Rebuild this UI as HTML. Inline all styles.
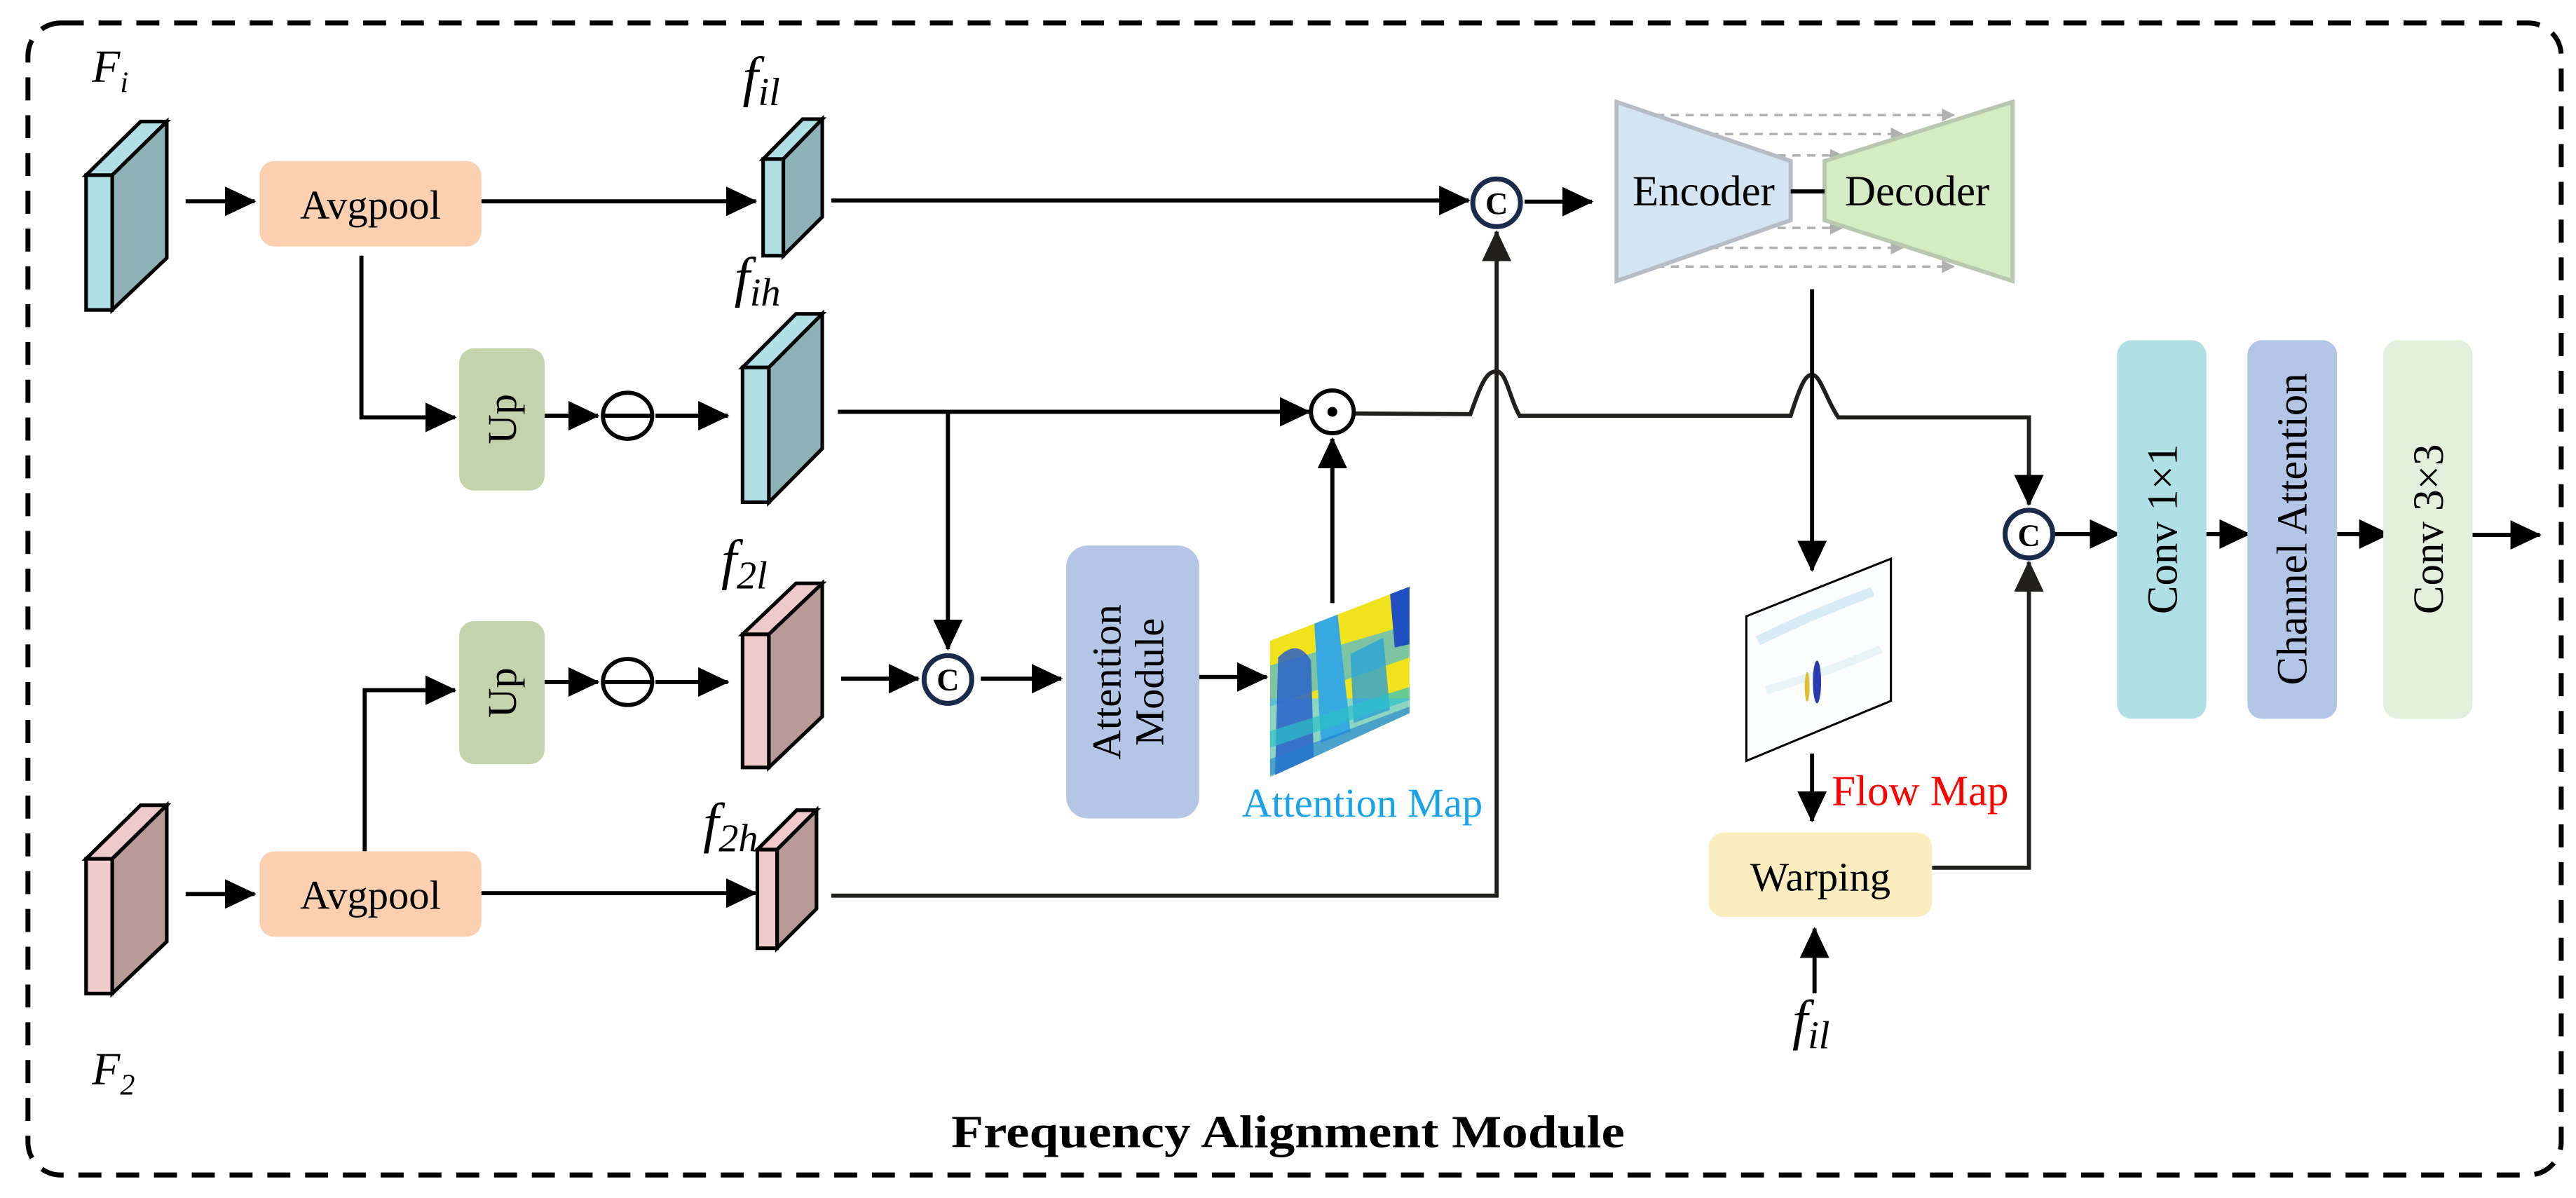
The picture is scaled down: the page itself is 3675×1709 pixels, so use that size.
<!DOCTYPE html>
<html><head><meta charset="utf-8"><style>
html,body{margin:0;padding:0;background:#fff;}
svg{display:block;font-family:"Liberation Serif","Times New Roman",serif;}
</style></head><body>
<svg width="3675" height="1709" viewBox="0 0 1568 729" preserveAspectRatio="none" xmlns="http://www.w3.org/2000/svg" font-family="'Liberation Serif', serif">
<defs>
<marker id="ah" viewBox="0 0 19 18" refX="18" refY="9" markerWidth="19" markerHeight="18" markerUnits="userSpaceOnUse" orient="auto">
<path d="M0,0 L19,9 L0,18 z" fill="#000"/></marker>
<marker id="ahd" viewBox="0 0 19 18" refX="18" refY="9" markerWidth="19" markerHeight="18" markerUnits="userSpaceOnUse" orient="auto">
<path d="M0,0 L19,9 L0,18 z" fill="#22201c"/></marker>
<marker id="ga" viewBox="0 0 8 8" refX="7" refY="4" markerWidth="8" markerHeight="8" markerUnits="userSpaceOnUse" orient="auto">
<path d="M0,0 L8,4 L0,8 z" fill="#b0b0b0"/></marker>
<clipPath id="amc"><polygon points="773,390 858,357 858,434 773,473"/></clipPath>
<clipPath id="fmc"><polygon points="1063,375 1151,340 1151,426.5 1063,463"/></clipPath>
</defs>

<rect x="17" y="14" width="1542" height="701" rx="20" ry="20" fill="none" stroke="#000" stroke-width="3" stroke-dasharray="14,9"/>

<g stroke="#000" stroke-width="2.5" fill="none">
<line x1="113" y1="122.5" x2="155" y2="122.5" marker-end="url(#ah)"/>
<line x1="293" y1="122.5" x2="460" y2="122.5" marker-end="url(#ah)"/>
<line x1="506" y1="122" x2="894" y2="122" marker-end="url(#ah)"/>
<line x1="928" y1="122.7" x2="969" y2="122.7" marker-end="url(#ah)"/>
<polyline points="220,155.6 220,254 277,254" marker-end="url(#ah)"/>
<line x1="331.5" y1="253" x2="364" y2="253" marker-end="url(#ah)"/>
<line x1="399" y1="253" x2="443" y2="253" marker-end="url(#ah)"/>
<line x1="510" y1="250.6" x2="797" y2="250.6" marker-end="url(#ah)"/>
<polyline points="577,250.6 577,395" marker-end="url(#ah)"/>
<line x1="811" y1="367" x2="811" y2="267" marker-end="url(#ah)"/>
<path d="M824,251.6 L895,252 C902,232 905,226 911,226 C917,226 919,243 925,253 L1090,253 C1096,234 1099,228 1103,228 C1108,228 1112,244 1119,254 L1235,254 L1235,307" marker-end="url(#ah)" stroke="#22201c"/>
<line x1="1103" y1="176" x2="1103" y2="347" marker-end="url(#ah)"/>
<line x1="1103" y1="458.5" x2="1103" y2="499.5" marker-end="url(#ah)"/>
<line x1="1104.5" y1="604.5" x2="1104.5" y2="565" marker-end="url(#ah)"/>
<polyline points="1176,528 1235,528 1235,342" marker-end="url(#ahd)" stroke="#22201c"/>
<line x1="1251" y1="325" x2="1290" y2="325" marker-end="url(#ah)"/>
<line x1="1343" y1="325" x2="1369" y2="325" marker-end="url(#ah)"/>
<line x1="1422.6" y1="325" x2="1454" y2="325" marker-end="url(#ah)"/>
<line x1="1505" y1="325.5" x2="1546" y2="325.5" marker-end="url(#ah)"/>
<line x1="512" y1="413" x2="559" y2="413" marker-end="url(#ah)"/>
<line x1="597" y1="413" x2="646" y2="413" marker-end="url(#ah)"/>
<line x1="730" y1="412" x2="771" y2="412" marker-end="url(#ah)"/>
<line x1="113" y1="544" x2="155" y2="544" marker-end="url(#ah)"/>
<line x1="293" y1="543.5" x2="460" y2="543.5" marker-end="url(#ah)"/>
<polyline points="222,518 222,420 277,420" marker-end="url(#ah)"/>
<line x1="331.5" y1="415" x2="364" y2="415" marker-end="url(#ah)"/>
<line x1="399" y1="415" x2="443" y2="415" marker-end="url(#ah)"/>
<polyline points="506,545 911,545 911,141" marker-end="url(#ahd)" stroke="#22201c"/>
</g>

<g stroke="#000" stroke-width="2.2" stroke-linejoin="miter">
<polygon points="52.4,106.6 85.6,74 101.5,74 68.3,106.6" fill="#b0dfe5"/>
<polygon points="68.3,106.6 101.5,74 101.5,157 68.3,188.6" fill="#8db3b8"/>
<rect x="52.4" y="106.6" width="15.9" height="82" fill="#b0dfe5"/>
<polygon points="464.5,96.8 488.5,72.5 500.5,72.5 476.8,96.8" fill="#b0dfe5"/>
<polygon points="476.8,96.8 500.5,72.5 500.5,132 476.8,155.6" fill="#8db3b8"/>
<rect x="464.5" y="96.8" width="12.3" height="58.8" fill="#b0dfe5"/>
<polygon points="452,223.6 484.5,191 500.5,191 468,223.6" fill="#b0dfe5"/>
<polygon points="468,223.6 500.5,191 500.5,273 468,305.7" fill="#8db3b8"/>
<rect x="452" y="223.6" width="16" height="82" fill="#b0dfe5"/>
<polygon points="452,386 484.5,355 500.5,355 468,386" fill="#efcaca"/>
<polygon points="468,386 500.5,355 500.5,436 468,467" fill="#b89a96"/>
<rect x="452" y="386" width="16" height="81" fill="#efcaca"/>
<polygon points="52.4,522.6 85.6,490 101.5,490 68.3,522.6" fill="#efcaca"/>
<polygon points="68.3,522.6 101.5,490 101.5,573 68.3,604.6" fill="#b89a96"/>
<rect x="52.4" y="522.6" width="15.9" height="82" fill="#efcaca"/>
<polygon points="461,517 485,493 497,493 473,517" fill="#efcaca"/>
<polygon points="473,517 497,493 497,553 473,577" fill="#b89a96"/>
<rect x="461" y="517" width="12" height="60" fill="#efcaca"/>
</g>

<rect x="158" y="98" width="135" height="52" rx="9" fill="#fad0b1"/>
<text x="225.5" y="133" font-size="25" text-anchor="middle">Avgpool</text>
<rect x="158" y="518" width="135" height="52" rx="9" fill="#fad0b1"/>
<text x="225.5" y="553" font-size="25" text-anchor="middle">Avgpool</text>
<rect x="279.5" y="212" width="52" height="86.5" rx="9" fill="#c3d4ac"/>
<text transform="translate(314,255) rotate(-90)" font-size="25" text-anchor="middle">Up</text>
<rect x="279.5" y="378" width="52" height="87" rx="9" fill="#c3d4ac"/>
<text transform="translate(314,421.5) rotate(-90)" font-size="25" text-anchor="middle">Up</text>
<rect x="649" y="332" width="81" height="166" rx="13" fill="#b3c6e5"/>
<text transform="translate(682,415) rotate(-90)" font-size="25" text-anchor="middle">Attention</text>
<text transform="translate(708,415) rotate(-90)" font-size="25" text-anchor="middle">Module</text>
<rect x="1040" y="506.6" width="136" height="51.4" rx="9" fill="#fcedc0"/>
<text x="1108" y="542" font-size="25" text-anchor="middle">Warping</text>
<rect x="1288.6" y="207" width="54.4" height="230.4" rx="9" fill="#b0dfe5"/>
<text transform="translate(1325,322) rotate(-90)" font-size="26" text-anchor="middle">Conv 1×1</text>
<rect x="1368" y="207" width="54.6" height="230.4" rx="9" fill="#b3c6e5"/>
<text transform="translate(1404,322) rotate(-90)" font-size="26" text-anchor="middle">Channel Attention</text>
<rect x="1450.7" y="207" width="54.3" height="230.4" rx="9" fill="#e3f0dc"/>
<text transform="translate(1487,322) rotate(-90)" font-size="26" text-anchor="middle">Conv 3×3</text>

<g stroke="#b0b0b0" stroke-width="1.5" stroke-dasharray="5,4" fill="none">
<line x1="1008" y1="70" x2="1189" y2="70" marker-end="url(#ga)"/>
<line x1="1041" y1="81.6" x2="1158" y2="81.6" marker-end="url(#ga)"/>
<line x1="1073" y1="94.6" x2="1121" y2="94.6" marker-end="url(#ga)"/>
<line x1="1073" y1="138.7" x2="1121" y2="138.7" marker-end="url(#ga)"/>
<line x1="1041" y1="150.8" x2="1158" y2="150.8" marker-end="url(#ga)"/>
<line x1="1008" y1="162.2" x2="1189" y2="162.2" marker-end="url(#ga)"/>
</g>
<polygon points="984,62 1090,98 1090,134 984,171" fill="#d3e4f2" stroke="#b5bcc6" stroke-width="2.5"/>
<polygon points="1110.6,98 1225,62 1225,171 1110.6,134" fill="#d3ecc3" stroke="#b8c8ae" stroke-width="2.5"/>
<line x1="1090" y1="116.5" x2="1110.6" y2="116.5" stroke="#000" stroke-width="2.5"/>
<text x="1037" y="125" font-size="26" text-anchor="middle">Encoder</text>
<text x="1167" y="125" font-size="26" text-anchor="middle">Decoder</text>

<g fill="#fff" stroke="#1a2a4a" stroke-width="3">
<circle cx="911" cy="123.4" r="14.5"/>
<circle cx="577" cy="413.5" r="14.5"/>
<circle cx="1235" cy="325" r="14.5"/>
</g>
<g font-size="19" font-weight="bold" text-anchor="middle">
<text x="911" y="130">C</text><text x="577" y="420">C</text><text x="1235" y="332">C</text>
</g>
<g fill="#fff" stroke="#000" stroke-width="2.5">
<ellipse cx="382" cy="253" rx="15" ry="14"/>
<ellipse cx="382" cy="415" rx="15" ry="14"/>
<circle cx="811" cy="250.6" r="13"/>
</g>
<line x1="367" y1="253" x2="397" y2="253" stroke="#000" stroke-width="2.5"/>
<line x1="367" y1="415" x2="397" y2="415" stroke="#000" stroke-width="2.5"/>
<circle cx="811" cy="250.6" r="3" fill="#000"/>

<g clip-path="url(#amc)">
<rect x="770" y="350" width="95" height="130" fill="#f0e31c"/>
<rect x="770" y="425" width="95" height="55" fill="#8bd6c0"/>
<path d="M773,405 L858,380 L858,400 L773,430 z" fill="#4ab8d8" opacity="0.7"/>
<path d="M778,400 Q790,388 798,402 L800,472 L776,476 z" fill="#2a62c8" opacity="0.85"/>
<path d="M800,378 L814,372 L822,445 L804,452 z" fill="#38a8e0"/>
<path d="M822,398 L842,388 L846,432 L824,440 z" fill="#2aa0d8" opacity="0.8"/>
<path d="M846,360 L858,356 L858,392 L849,394 z" fill="#1f4fc0"/>
<path d="M773,445 L858,418 L858,426 L773,455 z" fill="#2cc0c8" opacity="0.7"/>
<path d="M773,462 L858,430 L858,440 L773,472 z" fill="#1f7fd0" opacity="0.6"/>
</g>
<text x="756" y="497" font-size="25" fill="#1aa3e8">Attention Map</text>

<polygon points="1063,375 1151,340 1151,426.5 1063,463" fill="#fbfdff" stroke="#000" stroke-width="1.3"/>
<g clip-path="url(#fmc)">
<path d="M1070,390 Q1100,375 1140,360" stroke="#d8ecf6" stroke-width="6" fill="none"/>
<path d="M1075,420 Q1110,410 1145,395" stroke="#e8f3f8" stroke-width="5" fill="none"/>
<ellipse cx="1106" cy="415" rx="2.5" ry="13" fill="#2a3ab0"/>
<ellipse cx="1100" cy="418" rx="1.5" ry="9" fill="#e0c030"/>
</g>
<text x="1115" y="490" font-size="26" fill="#ff0000">Flow Map</text>

<g font-style="italic">
<text x="56" y="50" font-size="28">F<tspan font-size="18" dy="6">i</tspan></text>
<text x="56" y="660" font-size="28">F<tspan font-size="18" dy="6">2</tspan></text>
<text x="452" y="58" font-size="34">f<tspan font-size="24" dy="6">il</tspan></text>
<text x="447" y="180" font-size="34">f<tspan font-size="24" dy="6">ih</tspan></text>
<text x="439" y="352" font-size="34">f<tspan font-size="24" dy="6">2l</tspan></text>
<text x="428" y="512" font-size="34">f<tspan font-size="24" dy="6">2h</tspan></text>
<text x="1091" y="632" font-size="34">f<tspan font-size="24" dy="6">il</tspan></text>
</g>
<text x="784" y="698" font-size="28" font-weight="bold" text-anchor="middle" textLength="410" lengthAdjust="spacingAndGlyphs">Frequency Alignment Module</text>
</svg>
</body></html>
